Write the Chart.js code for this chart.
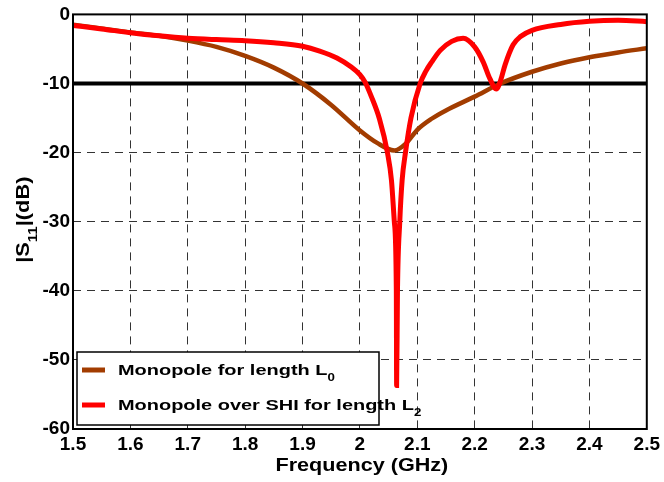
<!DOCTYPE html>
<html>
<head>
<meta charset="utf-8">
<script src="https://cdn.jsdelivr.net/npm/chart.js@4/dist/chart.umd.min.js"></script>
<style>
  html, body { margin: 0; padding: 0; background: #fff; }
  #wrap { width: 664px; height: 482px; position: relative; }
</style>
</head>
<body>
<div id="wrap"><canvas id="grafica"></canvas></div>
<script>
// datos
var freqL0 = [1.50, 1.60, 1.65, 1.70, 1.75, 1.80, 1.85, 1.90, 1.95, 2.00, 2.03, 2.06, 2.08, 2.10, 2.125, 2.15, 2.20, 2.245, 2.30, 2.35, 2.40, 2.45, 2.50];
var dbL0   = [-1.5, -2.6, -3.1, -3.8, -4.7, -6.0, -7.7, -10.0, -13.1, -16.8, -18.6, -19.7, -18.7, -16.7, -15.1, -13.9, -11.9, -10.0, -8.3, -7.1, -6.2, -5.5, -4.9];

var freqL2 = [1.50, 1.55, 1.60, 1.65, 1.70, 1.75, 1.80, 1.85, 1.90, 1.93, 1.96, 1.985, 2.00, 2.009, 2.02, 2.034, 2.048, 2.055, 2.060, 2.0635, 2.064,
              2.0655, 2.0695, 2.0736, 2.0794, 2.089, 2.105, 2.115, 2.125, 2.14, 2.16, 2.18, 2.20, 2.215, 2.2265, 2.238, 2.245, 2.253, 2.267, 2.28, 2.30, 2.35, 2.40, 2.45, 2.50];
var dbL2   = [-1.6, -2.1, -2.65, -3.1, -3.45, -3.65, -3.8, -4.1, -4.6, -5.3, -6.3, -7.6, -8.7, -9.8, -11.9, -15.1, -20.0, -24.0, -30.0, -40.0, -53.7,
              -40.0, -30.0, -24.0, -20.0, -15.0, -10.0, -8.2, -6.9, -5.2, -3.9, -3.45, -4.7, -6.9, -9.3, -10.8, -9.6, -7.3, -4.4, -3.2, -2.3, -1.45, -1.0, -0.85, -1.05];

var freqRef = [1.5, 2.5];
var dbRef   = [-10, -10];

var xTickLabels = ["1.5", "1.6", "1.7", "1.8", "1.9", "2", "2.1", "2.2", "2.3", "2.4", "2.5"];
var yTickLabels = ["-60", "-50", "-40", "-30", "-20", "-10", "0"];

var nombreL0 = "Monopole for length L";
var nombreL2 = "Monopole over SHI for length L";

function juntar(xs, ys) {
    return xs.map(function(x, i) { return { x: x, y: ys[i] }; });
}

var COLOR_L0 = '#a23c00';
var COLOR_L2 = '#ff0000';
var FUENTE = "'Liberation Sans', Arial, sans-serif";

// texto con subindice, estirado en horizontal como el original
function textoConSub(ctx, partes, x, y, tam, estira, alinear) {
    ctx.save();
    ctx.translate(x, y);
    ctx.scale(estira, 1);
    var total = 0;
    partes.forEach(function(p) {
        ctx.font = 'bold ' + (p.sub ? Math.round(tam * 0.68) : tam) + 'px ' + FUENTE;
        p.w = ctx.measureText(p.t).width;
        total += p.w;
    });
    var cx = alinear === 'center' ? -total / 2 : 0;
    ctx.textBaseline = 'alphabetic';
    ctx.textAlign = 'left';
    ctx.fillStyle = '#000';
    partes.forEach(function(p) {
        ctx.font = 'bold ' + (p.sub ? Math.round(tam * 0.68) : tam) + 'px ' + FUENTE;
        ctx.fillText(p.t, cx, p.sub ? tam * 0.42 : 0);
        cx += p.w;
    });
    ctx.restore();
}

var extras = {
    id: 'extras',
    afterDraw: function(chart) {
        var ctx = chart.ctx;
        var a = chart.chartArea;

        // marco de los ejes
        ctx.save();
        ctx.strokeStyle = '#000';
        ctx.lineWidth = 2;
        ctx.strokeRect(a.left, a.top, a.right - a.left, a.bottom - a.top);
        ctx.restore();

        // leyenda
        var lx = a.left + 4, ly = a.bottom - 77;
        ctx.save();
        ctx.fillStyle = '#fff';
        ctx.fillRect(lx, ly, 302, 73);
        ctx.strokeStyle = '#000';
        ctx.lineWidth = 1.5;
        ctx.strokeRect(lx, ly, 302, 73);
        ctx.lineWidth = 5;
        ctx.strokeStyle = COLOR_L0;
        ctx.beginPath(); ctx.moveTo(lx + 5, ly + 18); ctx.lineTo(lx + 28, ly + 18); ctx.stroke();
        ctx.strokeStyle = COLOR_L2;
        ctx.beginPath(); ctx.moveTo(lx + 5, ly + 53); ctx.lineTo(lx + 28, ly + 53); ctx.stroke();
        ctx.restore();
        textoConSub(ctx, [{ t: nombreL0 }, { t: '0', sub: true }], lx + 41, ly + 23, 15, 1.33, 'left');
        textoConSub(ctx, [{ t: nombreL2 }, { t: '2', sub: true }], lx + 41, ly + 58, 15, 1.33, 'left');

        // titulo eje x
        textoConSub(ctx, [{ t: 'Frequency (GHz)' }], (a.left + a.right) / 2 + 2, 471, 18, 1.2, 'center');

        // titulo eje y (rotado)
        ctx.save();
        ctx.translate(29, (a.top + a.bottom) / 2 - 2);
        ctx.rotate(-Math.PI / 2);
        textoConSub(ctx, [{ t: '|S' }, { t: '11', sub: true }, { t: '|(dB)' }], 0, 0, 19, 1.15, 'center');
        ctx.restore();
    }
};

var ctx = document.getElementById('grafica').getContext('2d');
new Chart(ctx, {
    type: 'line',
    data: {
        datasets: [
            { label: nombreL2 + '2', data: juntar(freqL2, dbL2), borderColor: COLOR_L2, borderWidth: 5, cubicInterpolationMode: 'monotone' },
            { label: nombreL0 + '0', data: juntar(freqL0, dbL0), borderColor: COLOR_L0, borderWidth: 4.5, cubicInterpolationMode: 'monotone' },
            { label: '-10 dB', data: juntar(freqRef, dbRef), borderColor: '#000', borderWidth: 4 }
        ]
    },
    options: {
        responsive: true,
        maintainAspectRatio: false,
        animation: false,
        layout: { padding: { top: 13, right: 17, left: 0, bottom: 0 } },
        elements: { point: { radius: 0 }, line: { fill: false } },
        plugins: { legend: { display: false }, tooltip: { enabled: false } },
        scales: {
            x: {
                type: 'linear', min: 1.5, max: 2.5,
                afterFit: function(s) { s.height = 53; },
                ticks: {
                    stepSize: 0.1, autoSkip: false, maxRotation: 0, padding: 4,
                    color: '#000', font: { family: FUENTE, size: 19, weight: 'bold' },
                    callback: function(v, i) { return xTickLabels[i]; }
                },
                grid: { color: '#333', lineWidth: 1, drawTicks: false },
                border: { display: false, dash: [8, 6] }
            },
            y: {
                type: 'linear', min: -60, max: 0,
                afterFit: function(s) { s.width = 73; },
                ticks: {
                    stepSize: 10, padding: 3,
                    color: '#000', font: { family: FUENTE, size: 19, weight: 'bold' },
                    callback: function(v, i) { return yTickLabels[i]; }
                },
                grid: { color: '#333', lineWidth: 1, drawTicks: false },
                border: { display: false, dash: [8, 6] }
            }
        }
    },
    plugins: [extras]
});
</script>
</body>
</html>
